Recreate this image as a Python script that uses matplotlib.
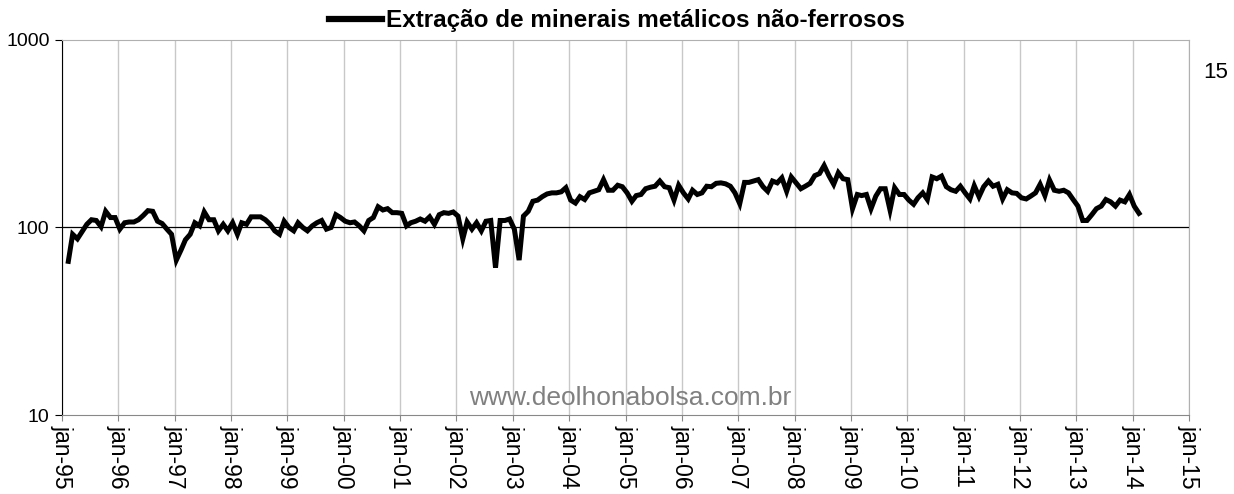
import matplotlib
matplotlib.use('Agg')
import matplotlib.pyplot as plt
import matplotlib.dates as mdates
from matplotlib.lines import Line2D
from matplotlib.ticker import FixedLocator, NullLocator
import pandas as pd

plt.rcParams['font.family'] = ['Liberation Sans', 'DejaVu Sans']

# monthly index values, feb-95 .. mar-14 (log scale)
v1995 = [66, 92, 87, 95, 104, 110, 109, 101, 122, 113, 113]
v1996 = [98, 106, 107, 107, 110, 116, 123, 122, 108, 105, 98, 92]
v1997 = [67, 76, 86, 92, 106, 102, 121, 110, 110, 96, 104, 96]
v1998 = [106, 92, 106, 104, 114, 114, 114, 110, 104, 96, 92, 108]
v1999 = [100, 96, 106, 100, 96, 102, 106, 109, 98, 100, 117, 113]
v2000 = [108, 106, 107, 102, 96, 109, 113, 129, 124, 126, 120, 120]
v2001 = [119, 102, 106, 108, 111, 108, 114, 104, 117, 120, 119, 121]
v2002 = [115, 87, 107, 98, 106, 96, 108, 109, 61, 109, 109, 111]
v2003 = [98, 67, 115, 122, 138, 140, 146, 151, 153, 153, 155, 163]
v2004 = [140, 135, 146, 141, 153, 156, 159, 180, 158, 158, 168, 165]
v2005 = [153, 138, 148, 150, 161, 164, 166, 177, 165, 163, 140, 168]
v2006 = [153, 142, 158, 150, 153, 166, 165, 172, 173, 171, 166, 153]
v2007 = [134, 174, 174, 177, 180, 165, 156, 177, 173, 184, 156, 186]
v2008 = [173, 161, 166, 172, 189, 194, 214, 189, 170, 196, 182, 180]
v2009 = [126, 150, 148, 150, 126, 147, 161, 161, 124, 163, 150, 150]
v2010 = [140, 133, 144, 153, 141, 186, 182, 188, 165, 159, 156, 166]
v2011 = [153, 142, 167, 146, 165, 177, 166, 170, 142, 159, 153, 152]
v2012 = [144, 142, 147, 153, 170, 148, 179, 158, 156, 158, 153, 141]
v2013 = [130, 109, 109, 117, 126, 130, 141, 137, 130, 140, 137, 150]
v2014 = [130, 119]

values = (v1995 + v1996 + v1997 + v1998 + v1999 + v2000 + v2001 + v2002 +
          v2003 + v2004 + v2005 + v2006 + v2007 + v2008 + v2009 + v2010 +
          v2011 + v2012 + v2013 + v2014)
dates = pd.date_range('1995-02-01', periods=len(values), freq='MS') + pd.Timedelta(days=10)

series_name = 'Extração de minerais metálicos não-ferrosos'
y_ticks = [10, 100, 1000]
year_ticks = pd.date_range('1995-01-01', '2015-01-01', freq='YS')

fig = plt.figure(figsize=(12.34, 4.94), dpi=100)
ax = fig.add_axes([62/1234, 1-415/494, (1189-62)/1234, (415-40)/494])

ax.plot(dates, values, color='black', lw=3.6, solid_joinstyle='miter', zorder=3)
ax.axhline(100, color='black', lw=0.9, zorder=2)

ax.set_yscale('log')
ax.set_ylim(10, 1000)
ax.yaxis.set_major_locator(FixedLocator(y_ticks))
ax.yaxis.set_minor_locator(NullLocator())
ax.set_yticklabels([str(t) for t in y_ticks], fontsize=14)

ax.set_xlim(year_ticks[0], year_ticks[-1])
ax.set_xticks(year_ticks)
ax.xaxis.set_major_formatter(mdates.DateFormatter('jan-%y'))
ax.tick_params(axis='x', labelsize=16.5, labelrotation=270, length=4, color='#888888', pad=3)
ax.tick_params(axis='y', length=5, color='black', pad=4)
ax.grid(axis='x', color='#c8c8c8', lw=1)

ax.spines['left'].set_color('black')
ax.spines['bottom'].set_color('#888888')
ax.spines['top'].set_color('#b0b0b0')
ax.spines['right'].set_color('#b0b0b0')

ax.text((630 - 62) / 1127, 0.045, 'www.deolhonabolsa.com.br', transform=ax.transAxes,
        ha='center', va='center', fontsize=19, color='#808080')

fig.text(1216/1234, 1-73/494, '15', fontsize=16, ha='center', va='center')

handle = Line2D([], [], color='black', lw=4.5)
fig.legend(handles=[handle], labels=[series_name], loc='center',
           bbox_to_anchor=(0.5, 1-21/494), frameon=False,
           prop={'weight': 'bold', 'size': 17.5}, handlelength=2.2,
           handletextpad=0.15, borderaxespad=0)

fig.savefig('out.png', dpi=100)
